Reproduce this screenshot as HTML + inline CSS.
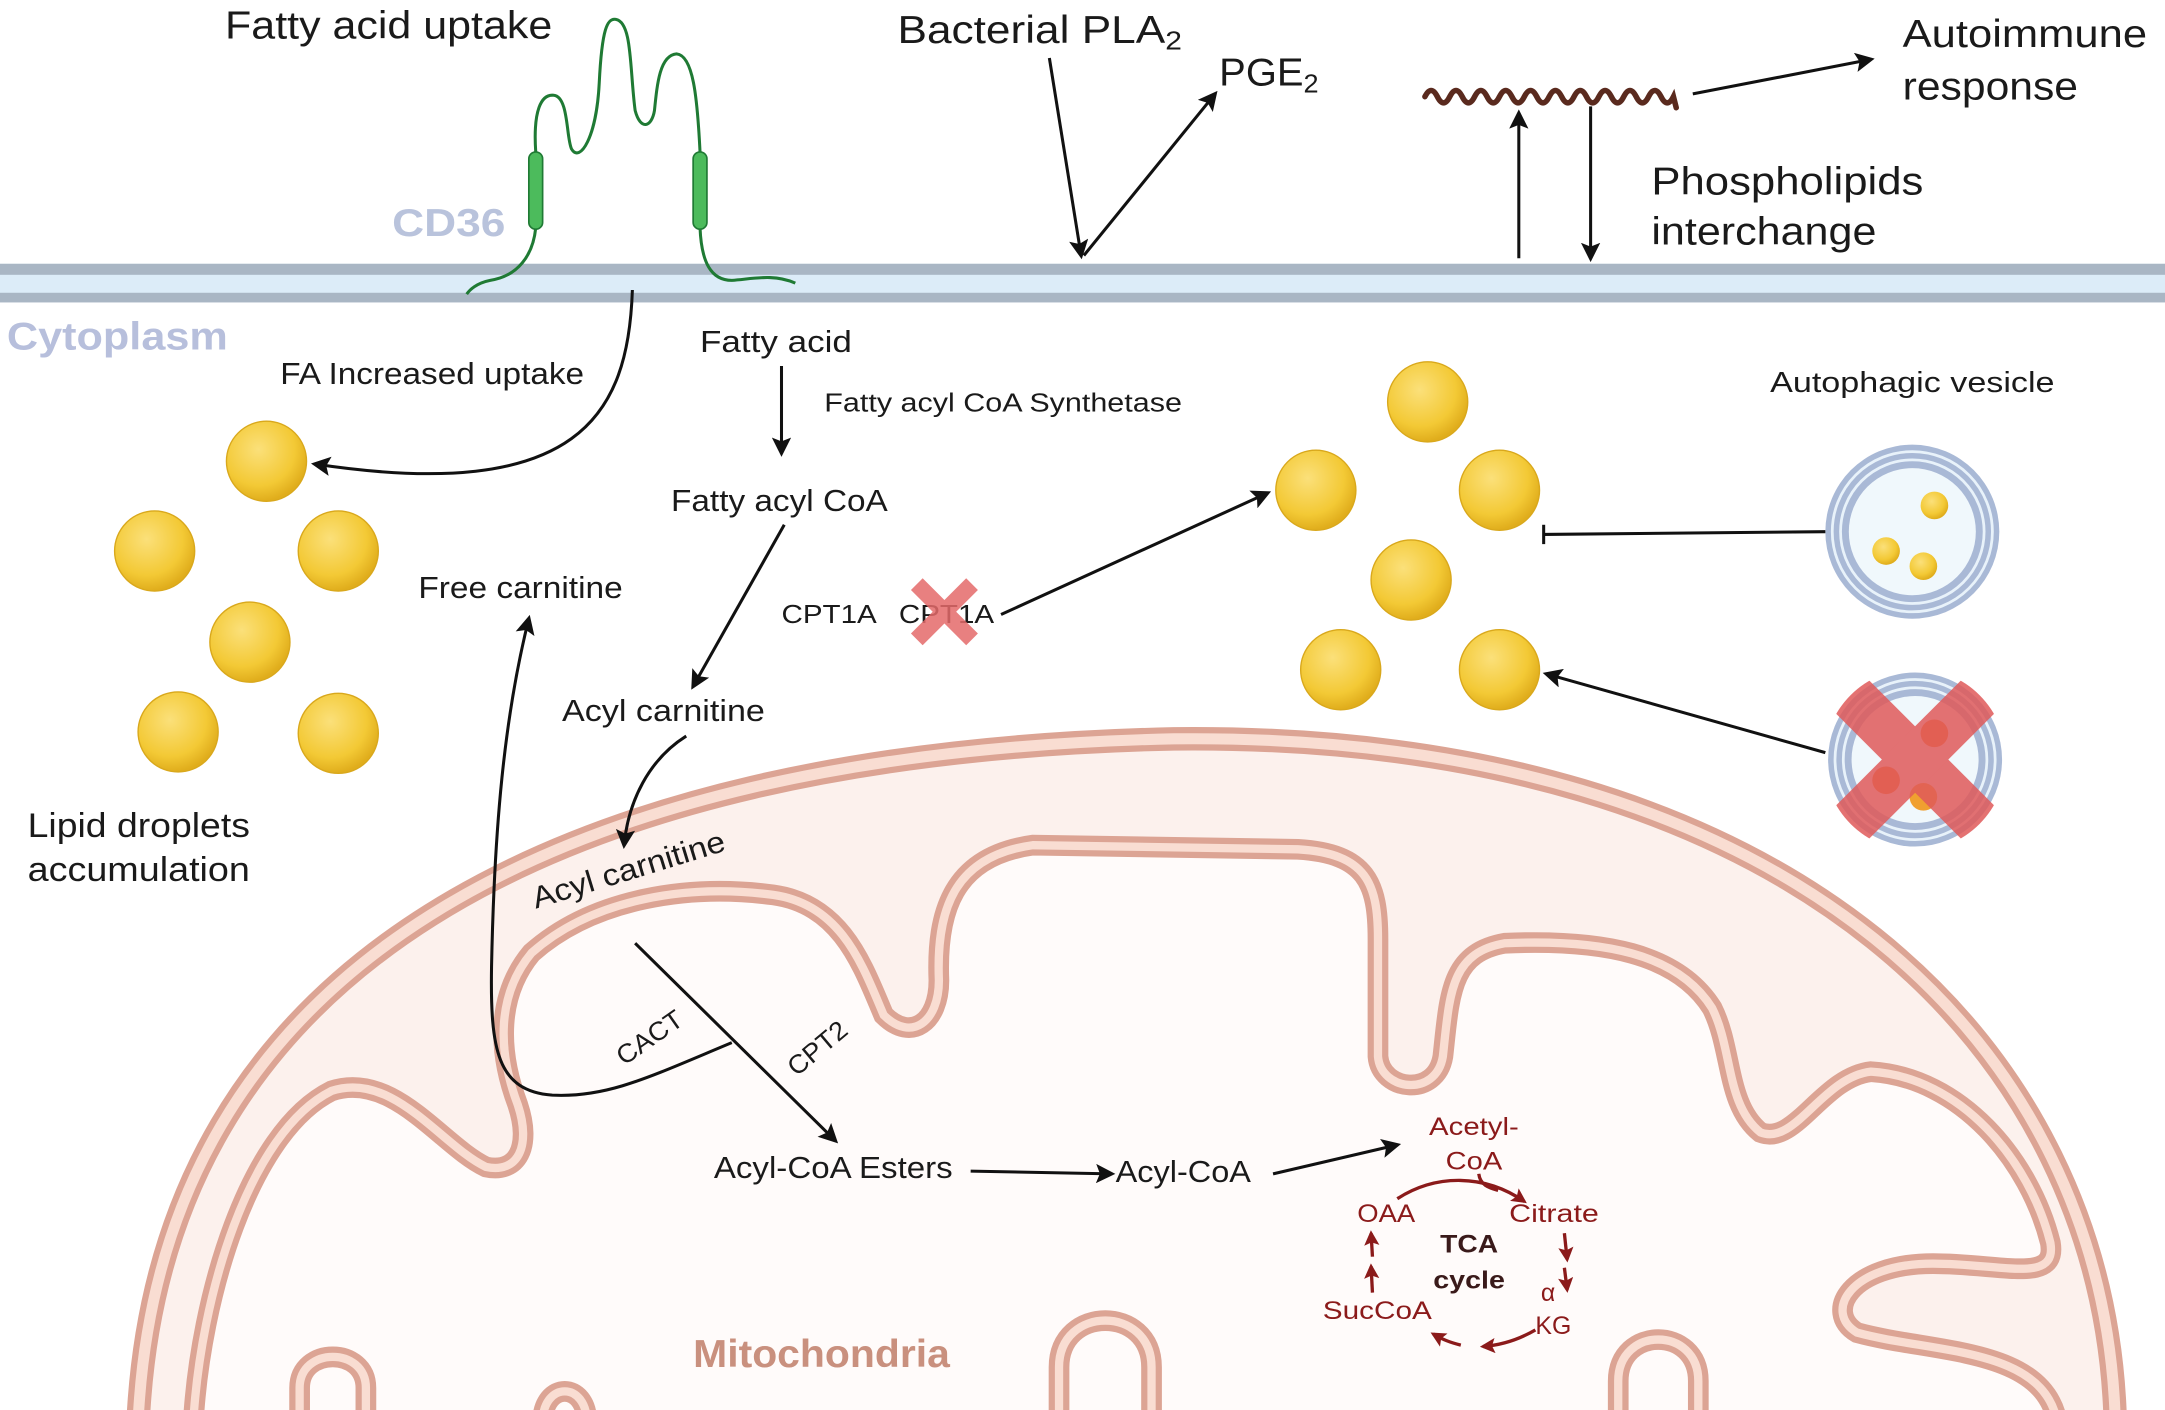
<!DOCTYPE html>
<html><head><meta charset="utf-8"><style>
html,body{margin:0;padding:0;background:#fff;}
svg{display:block;}
text{font-family:"Liberation Sans",sans-serif;fill:#1a1a1a;}
.t{font-size:22px;}
.big{font-size:28px;}
.red{fill:#8b1a1a;font-size:18px;}
</style></head><body>
<svg width="2165" height="1410" viewBox="0 0 1568 1021" preserveAspectRatio="none" xmlns="http://www.w3.org/2000/svg">
<defs>
<marker id="ab" viewBox="0 0 10 10" refX="8" refY="5" markerWidth="14" markerHeight="14" markerUnits="userSpaceOnUse" orient="auto"><path d="M0,0 L10,5 L0,10 L2,5 Z" fill="#111"/></marker>
<marker id="r" viewBox="0 0 10 10" refX="8" refY="5" markerWidth="11" markerHeight="11" markerUnits="userSpaceOnUse" orient="auto"><path d="M0,0 L10,5 L0,10 L2,5 Z" fill="#8b1a1a"/></marker>
<radialGradient id="y" cx="40%" cy="35%" r="65%"><stop offset="0" stop-color="#fbe07a"/><stop offset=".7" stop-color="#f3c935"/><stop offset="1" stop-color="#e0ad1c"/></radialGradient>
<clipPath id="vc"><circle cx="1387" cy="550" r="66"/></clipPath>
</defs>

<!-- Mitochondria -->
<path d="M100,1030 C115,700 400,545 850,535 C1300,530 1525,760 1532,1030 Z" fill="#fcf1ed"/>
<path d="M140,1030 C145,940 180,820 240,790 C285,775 320,830 352,845 C375,850 385,830 375,800 C360,760 360,720 385,690 C430,650 500,640 560,648 C610,655 625,700 640,735 C660,755 680,740 680,710 C678,660 690,620 748,612 L940,615 C990,618 998,640 998,680 L998,765 C1000,790 1040,795 1045,765 C1050,720 1050,690 1090,683 C1160,680 1215,690 1240,730 C1255,760 1250,800 1275,820 C1300,830 1320,780 1355,776 C1420,780 1470,840 1485,900 C1490,930 1450,915 1400,915 C1340,915 1320,950 1345,965 C1400,980 1480,975 1490,1030 Z" fill="#fffbfa"/>
<g fill="none" stroke-linecap="round">
<path d="M100,1030 C115,700 400,545 850,535 C1300,530 1525,760 1532,1030" stroke="#dca494" stroke-width="17"/>
<path d="M100,1030 C115,700 400,545 850,535 C1300,530 1525,760 1532,1030" stroke="#f9ddd2" stroke-width="8"/>
<g id="inner">
<path d="M140,1030 C145,940 180,820 240,790 C285,775 320,830 352,845 C375,850 385,830 375,800 C360,760 360,720 385,690 C430,650 500,640 560,648 C610,655 625,700 640,735 C660,755 680,740 680,710 C678,660 690,620 748,612 L940,615 C990,618 998,640 998,680 L998,765 C1000,790 1040,795 1045,765 C1050,720 1050,690 1090,683 C1160,680 1215,690 1240,730 C1255,760 1250,800 1275,820 C1300,830 1320,780 1355,776 C1420,780 1470,840 1485,900 C1490,930 1450,915 1400,915 C1340,915 1320,950 1345,965 C1400,980 1480,975 1490,1030"/>
<path d="M767,1030 L767,990 C767,945 834,945 834,990 L834,1030"/>
<path d="M1172,1030 L1172,1000 C1172,960 1230,960 1230,1000 L1230,1030"/>
<path d="M217,1030 L217,1005 C217,975 265,975 265,1005 L265,1030"/>
<path d="M393,1030 C393,1000 425,1000 425,1030"/>
</g>
<use href="#inner" stroke="#dca494" stroke-width="15"/>
<use href="#inner" stroke="#f9ddd2" stroke-width="6"/>
</g>

<!-- Plasma membrane -->
<rect x="0" y="191" width="1568" height="28" fill="#dcecf8"/>
<rect x="0" y="191" width="1568" height="8" fill="#a9b6c4"/>
<rect x="0" y="212" width="1568" height="7" fill="#a9b6c4"/>

<!-- CD36 -->
<g fill="none" stroke="#1f7a34" stroke-width="2.2">
<path d="M388,110 C386,80 392,68 401,69 C412,70 410,100 414,108 C420,118 432,100 434,60 C436,20 440,13 446,14 C458,16 456,50 460,80 C464,95 472,92 474,80 C476,60 478,40 490,39 C502,40 505,70 507,110"/>
<path d="M388,165 C386,185 375,200 355,203 C345,205 340,210 338,213"/>
<path d="M507,165 C508,190 515,203 530,203 C545,202 560,198 576,205"/>
</g>
<rect x="383" y="110" width="10" height="56" rx="5" fill="#4cbb5c" stroke="#1f7a34" stroke-width="1.2"/>
<rect x="502" y="110" width="10" height="56" rx="5" fill="#4cbb5c" stroke="#1f7a34" stroke-width="1.2"/>

<!-- labels top -->
<text x="163" y="28" class="big" textLength="237" lengthAdjust="spacingAndGlyphs">Fatty acid uptake</text>
<text x="650" y="31" class="big" textLength="206" lengthAdjust="spacingAndGlyphs">Bacterial PLA<tspan font-size="19" dy="5">2</tspan></text>
<text x="883" y="62" class="big" textLength="72" lengthAdjust="spacingAndGlyphs">PGE<tspan font-size="19" dy="5">2</tspan></text>
<text x="1378" y="34" class="big" textLength="177" lengthAdjust="spacingAndGlyphs">Autoimmune</text>
<text x="1378" y="72" class="big" textLength="127" lengthAdjust="spacingAndGlyphs">response</text>
<text x="1196" y="141" class="big" textLength="197" lengthAdjust="spacingAndGlyphs">Phospholipids</text>
<text x="1196" y="177" class="big" textLength="163" lengthAdjust="spacingAndGlyphs">interchange</text>
<text x="284" y="171" class="big" font-weight="bold" style="fill:#b9c3dc" textLength="82" lengthAdjust="spacingAndGlyphs">CD36</text>
<text x="5" y="253" class="big" font-weight="bold" style="fill:#b7bfdc" textLength="160" lengthAdjust="spacingAndGlyphs">Cytoplasm</text>

<!-- top arrows -->
<g stroke="#111" stroke-width="2.2" fill="none">
<path d="M760,42 L783,185" marker-end="url(#ab)"/>
<path d="M785,185 L880,68" marker-end="url(#ab)"/>
<path d="M1100,187 L1100,82" marker-end="url(#ab)"/>
<path d="M1152,77 L1152,187" marker-end="url(#ab)"/>
<path d="M1226,68 L1355,43" marker-end="url(#ab)"/>
</g>
<path d="M1032,70 q4.5,-9 9,0 t9,0 t9,0 t9,0 t9,0 t9,0 t9,0 t9,0 t9,0 t9,0 t9,0 t9,0 t9,0 t9,0 t9,0 t9,0 t9,0 t9,0 t9,0 t9,0 l2,8" fill="none" stroke="#5a2a1e" stroke-width="4" stroke-linecap="round"/>

<!-- cytoplasm texts -->
<text x="203" y="278" class="t" textLength="220" lengthAdjust="spacingAndGlyphs">FA Increased uptake</text>
<text x="507" y="255" class="t" textLength="110" lengthAdjust="spacingAndGlyphs">Fatty acid</text>
<text x="597" y="298" font-size="19" textLength="259" lengthAdjust="spacingAndGlyphs">Fatty acyl CoA Synthetase</text>
<text x="486" y="370" class="t" textLength="157" lengthAdjust="spacingAndGlyphs">Fatty acyl CoA</text>
<text x="303" y="433" class="t" textLength="148" lengthAdjust="spacingAndGlyphs">Free carnitine</text>
<text x="566" y="451" font-size="19" textLength="69" lengthAdjust="spacingAndGlyphs">CPT1A</text>
<text x="651" y="451" font-size="19" textLength="69" lengthAdjust="spacingAndGlyphs">CPT1A</text>
<text x="407" y="522" class="t" textLength="147" lengthAdjust="spacingAndGlyphs">Acyl carnitine</text>
<text x="20" y="606" font-size="25" textLength="161" lengthAdjust="spacingAndGlyphs">Lipid droplets</text>
<text x="20" y="638" font-size="25" textLength="161" lengthAdjust="spacingAndGlyphs">accumulation</text>
<text x="1282" y="284" font-size="21" textLength="206" lengthAdjust="spacingAndGlyphs">Autophagic vesicle</text>

<!-- red X CPT1A -->
<g stroke="#e46a6a" stroke-width="12" opacity=".85"><line x1="664" y1="423" x2="704" y2="463"/><line x1="704" y1="423" x2="664" y2="463"/></g>

<!-- droplets -->
<g fill="url(#y)" stroke="#d9a81c" stroke-width="1">
<circle cx="193" cy="334" r="29"/><circle cx="112" cy="399" r="29"/><circle cx="245" cy="399" r="29"/>
<circle cx="181" cy="465" r="29"/><circle cx="129" cy="530" r="29"/><circle cx="245" cy="531" r="29"/>
<circle cx="1034" cy="291" r="29"/><circle cx="953" cy="355" r="29"/><circle cx="1086" cy="355" r="29"/>
<circle cx="1022" cy="420" r="29"/><circle cx="971" cy="485" r="29"/><circle cx="1086" cy="485" r="29"/>
</g>

<!-- vesicles -->
<g>
<circle cx="1385" cy="385" r="63" fill="#a9b9d6"/>
<circle cx="1385" cy="385" r="58" fill="none" stroke="#e8f2fa" stroke-width="2"/>
<circle cx="1385" cy="385" r="52" fill="none" stroke="#e8f2fa" stroke-width="2"/>
<circle cx="1385" cy="385" r="46" fill="#f0f8fc"/>
<circle cx="1401" cy="366" r="10" fill="url(#y)"/><circle cx="1366" cy="399" r="10" fill="url(#y)"/><circle cx="1393" cy="410" r="10" fill="url(#y)"/>
</g>
<g>
<circle cx="1387" cy="550" r="63" fill="#a9b9d6"/>
<circle cx="1387" cy="550" r="58" fill="none" stroke="#e8f2fa" stroke-width="2"/>
<circle cx="1387" cy="550" r="52" fill="none" stroke="#e8f2fa" stroke-width="2"/>
<circle cx="1387" cy="550" r="46" fill="#f0f8fc"/>
<circle cx="1401" cy="531" r="10" fill="#f08030"/><circle cx="1366" cy="565" r="10" fill="#f08030"/><circle cx="1393" cy="577" r="10" fill="#f0a030"/>
<g stroke="#e05a5a" stroke-width="34" opacity=".85" clip-path="url(#vc)"><line x1="1330" y1="493" x2="1444" y2="607"/><line x1="1444" y1="493" x2="1330" y2="607"/></g>
</g>

<!-- cytoplasm/mito arrows -->
<g stroke="#111" stroke-width="2.2" fill="none">
<path d="M458,210 C455,300 420,365 228,336" marker-end="url(#ab)"/>
<path d="M566,265 L566,328" marker-end="url(#ab)"/>
<path d="M568,380 L502,497" marker-end="url(#ab)"/>
<path d="M497,533 C470,550 455,580 452,612" marker-end="url(#ab)"/>
<path d="M530,755 C470,780 440,795 400,793 C360,790 355,760 356,700 C358,600 365,520 383,448" marker-end="url(#ab)"/>
<path d="M460,683 L605,826" marker-end="url(#ab)"/>
<path d="M703,848 L805,850" marker-end="url(#ab)"/>
<path d="M922,850 L1012,829" marker-end="url(#ab)"/>
<path d="M725,445 L918,357" marker-end="url(#ab)"/>
<path d="M1322,385 L1118,387"/>
<path d="M1118,380 L1118,394"/>
<path d="M1322,545 L1120,488" marker-end="url(#ab)"/>
</g>

<!-- mito texts -->
<text transform="translate(388,658) rotate(-17)" class="t" textLength="145" lengthAdjust="spacingAndGlyphs">Acyl carnitine</text>
<text transform="translate(452,772) rotate(-35)" font-size="19" textLength="54" lengthAdjust="spacingAndGlyphs">CACT</text>
<text transform="translate(577,780) rotate(-40)" font-size="19" textLength="50" lengthAdjust="spacingAndGlyphs">CPT2</text>
<text x="517" y="853" class="t" textLength="173" lengthAdjust="spacingAndGlyphs">Acyl-CoA Esters</text>
<text x="808" y="856" class="t" textLength="98" lengthAdjust="spacingAndGlyphs">Acyl-CoA</text>
<text x="502" y="990" class="big" font-weight="bold" style="fill:#c9907e" textLength="186" lengthAdjust="spacingAndGlyphs">Mitochondria</text>

<!-- TCA -->
<text x="1035" y="822" class="red" textLength="65" lengthAdjust="spacingAndGlyphs">Acetyl-</text>
<text x="1047" y="847" class="red" textLength="41" lengthAdjust="spacingAndGlyphs">CoA</text>
<text x="983" y="885" class="red" textLength="42" lengthAdjust="spacingAndGlyphs">OAA</text>
<text x="1093" y="885" class="red" textLength="65" lengthAdjust="spacingAndGlyphs">Citrate</text>
<text x="1043" y="907" class="red" font-weight="bold" style="fill:#3a1a1a" textLength="42" lengthAdjust="spacingAndGlyphs">TCA</text>
<text x="1038" y="933" class="red" font-weight="bold" style="fill:#3a1a1a" textLength="52" lengthAdjust="spacingAndGlyphs">cycle</text>
<text x="1116" y="942" class="red">α</text>
<text x="1112" y="966" class="red" textLength="26" lengthAdjust="spacingAndGlyphs">KG</text>
<text x="958" y="955" class="red" textLength="79" lengthAdjust="spacingAndGlyphs">SucCoA</text>
<g stroke="#8b1a1a" stroke-width="2.4" fill="none">
<path d="M1012,868 C1040,850 1075,850 1104,870" marker-end="url(#r)"/>
<path d="M1071,850 C1072,858 1078,860 1085,862"/>
<path d="M1133,893 L1135,912" marker-end="url(#r)"/>
<path d="M1133,918 L1135,934" marker-end="url(#r)"/>
<path d="M1112,963 C1100,970 1088,974 1074,975" marker-end="url(#r)"/>
<path d="M1058,974 C1050,972 1045,970 1038,966" marker-end="url(#r)"/>
<path d="M994,936 L993,917" marker-end="url(#r)"/>
<path d="M994,910 L993,893" marker-end="url(#r)"/>
</g>
</svg>
</body></html>
